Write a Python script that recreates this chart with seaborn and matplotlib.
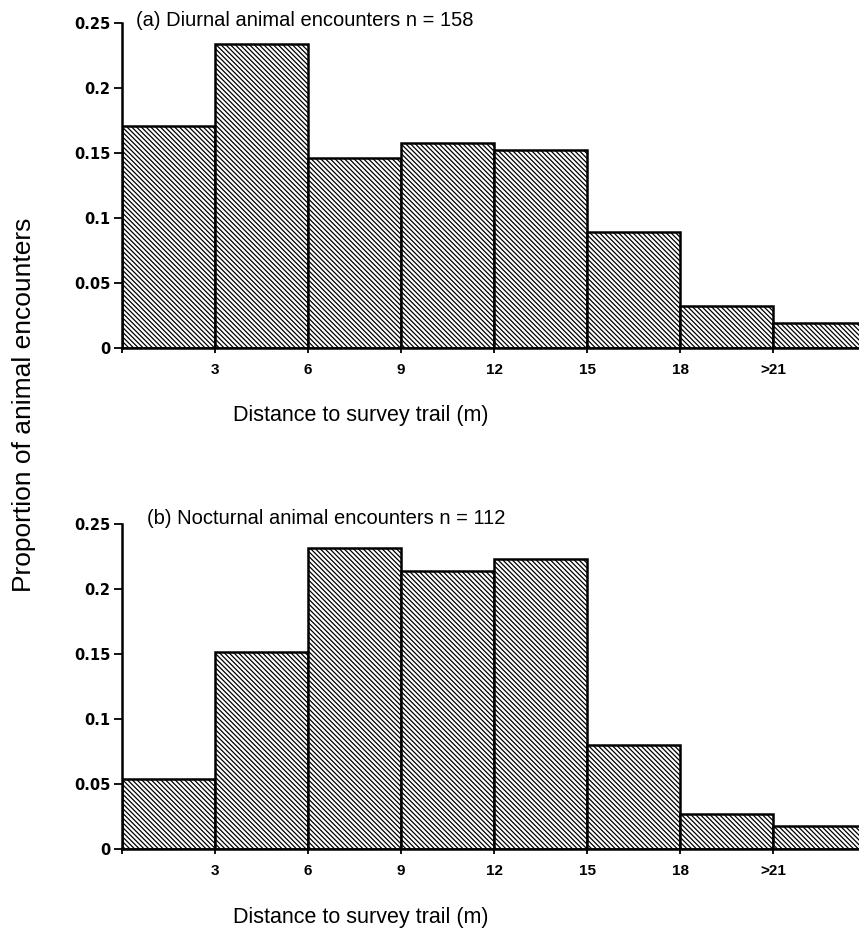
import numpy as np
import pandas as pd
import matplotlib
matplotlib.use("Agg")
import matplotlib.pyplot as plt
import seaborn as sns

# ---- data ----
bin_edges = [0, 3, 6, 9, 12, 15, 18, 21, 24]          # distance classes (m)
tick_positions = [0, 3, 6, 9, 12, 15, 18, 21]
tick_labels = ["", "3", "6", "9", "12", "15", "18", ">21"]
diurnal_props = [0.171, 0.234, 0.146, 0.158, 0.152, 0.089, 0.032, 0.019]
nocturnal_props = [0.054, 0.152, 0.232, 0.214, 0.223, 0.080, 0.027, 0.018]
panel_titles = ["(a) Diurnal animal encounters n = 158",
                "(b) Nocturnal animal encounters n = 112"]
y_ticks = [0, 0.05, 0.10, 0.15, 0.20, 0.25]
y_tick_labels = ["0", "0.05", "0.1", "0.15", "0.2", "0.25"]
x_label = "Distance to survey trail (m)"
y_label = "Proportion of animal encounters"

sns.set_style("ticks")
plt.rcParams["font.family"] = ["Liberation Sans", "DejaVu Sans"]
plt.rcParams["hatch.linewidth"] = 0.9
plt.rcParams["hatch.color"] = "black"
for k in ["text.color", "axes.labelcolor", "xtick.color", "ytick.color", "axes.edgecolor"]:
    plt.rcParams[k] = "black"

W, H = 859, 930
fig = plt.figure(figsize=(W / 100, H / 100), dpi=100)

ax_left = 122 / W
ax_width = 1.0 - ax_left
ax_h = 325 / H
axes = [fig.add_axes([ax_left, (H - 348) / H, ax_width, ax_h]),
        fig.add_axes([ax_left, (H - 849.3) / H, ax_width, ax_h])]

centers = [(a + b) / 2 for a, b in zip(bin_edges[:-1], bin_edges[1:])]
datasets = [diurnal_props, nocturnal_props]
title_pos = [(136, 20), (147, 518)]
xlabel_y = [416, 917]

for ax, props, title, tp, xly in zip(axes, datasets, panel_titles, title_pos, xlabel_y):
    df = pd.DataFrame({"dist": centers, "prop": props})
    sns.histplot(data=df, x="dist", weights="prop", bins=bin_edges, ax=ax,
                 color="white", edgecolor="black", linewidth=1.8,
                 hatch="\\\\\\\\\\\\\\", alpha=1.0, fill=True)
    ax.set_xlim(0, 737 / 31.0)
    ax.set_ylim(0, 0.25)
    ax.set_xticks(tick_positions)
    ax.set_xticklabels(tick_labels, fontsize=11, fontweight="bold",
                       family=["Liberation Sans"])
    ax.set_yticks(y_ticks)
    ax.set_yticklabels(y_tick_labels, fontsize=10.5, fontweight="bold",
                       family=["DejaVu Sans"])
    ax.set_xlabel("")
    ax.set_ylabel("")
    ax.tick_params(axis="x", direction="out", length=3.5, width=1.3, pad=7, colors="black")
    ax.tick_params(axis="y", direction="out", length=5.5, width=1.3, pad=3, colors="black")
    for s in ["top", "right"]:
        ax.spines[s].set_visible(False)
    for s in ["left", "bottom"]:
        ax.spines[s].set_linewidth(1.8)
        ax.spines[s].set_color("black")
    ax.patch.set_alpha(0)
    fig.text(tp[0] / W, 1 - tp[1] / H, title, fontsize=14.5, ha="left", va="center")
    fig.text(360.5 / W, 1 - xly / H, x_label, fontsize=15.5, ha="center", va="center")

fig.text(24 / W, 1 - 405 / H, y_label, fontsize=19, rotation=90,
         ha="center", va="center")

fig.savefig("out.png", dpi=100, facecolor="white")
